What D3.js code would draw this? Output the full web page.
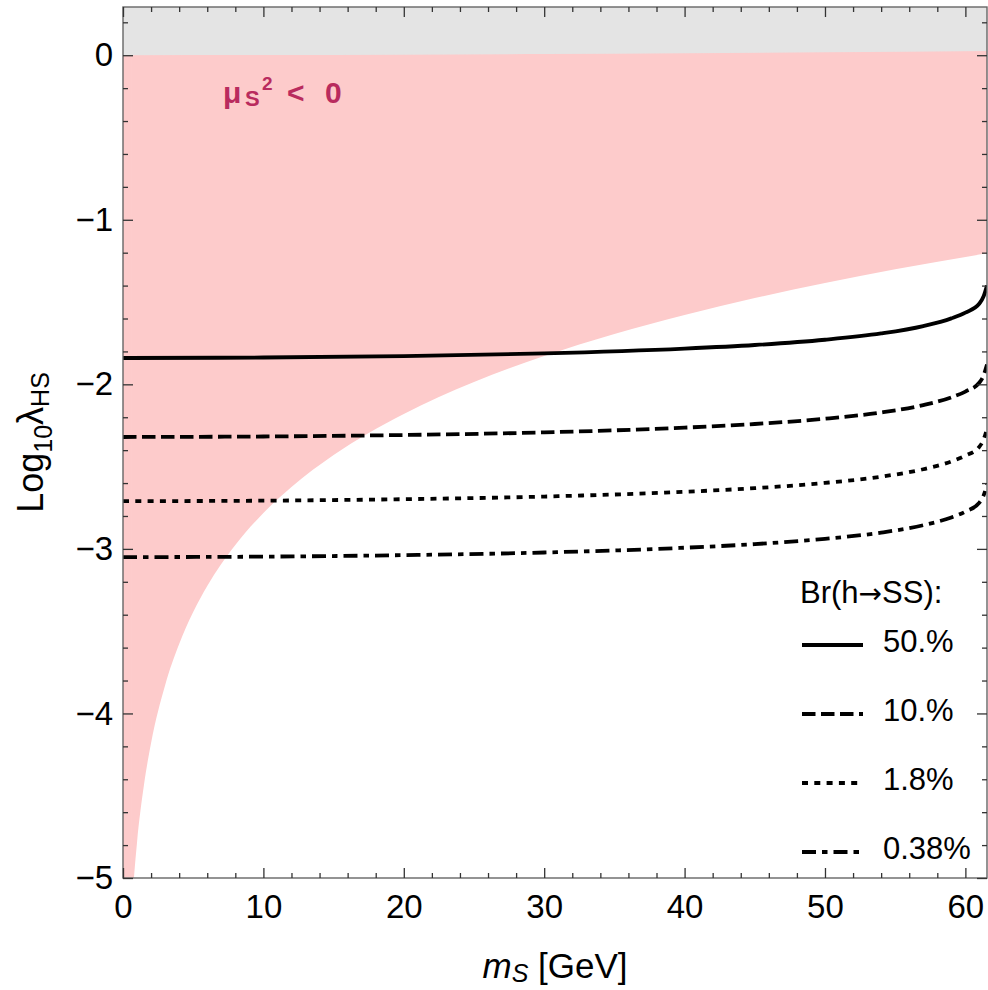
<!DOCTYPE html>
<html>
<head>
<meta charset="utf-8">
<script src="https://cdn.jsdelivr.net/npm/d3@7"></script>
<style>
  body { margin: 0; background: #fff; }
  svg { display: block; }
  text { font-family: "Liberation Sans", Arial, sans-serif; }
</style>
</head>
<body>
<svg id="chart" width="988" height="990"></svg>
<script>
// Singlet mass grid [GeV] shared by the branching-ratio contours
const massGrid = [0, 10, 20, 30, 40, 45, 50, 54, 57, 59, 60, 61, 61.3, 61.54];

// Log10 lambda_HS along each Br(h -> SS) contour
const br50  = [-1.840, -1.837, -1.828, -1.812, -1.783, -1.761, -1.729, -1.691, -1.646, -1.599, -1.564, -1.509, -1.465, -1.400];
const br10  = [-2.320, -2.317, -2.308, -2.292, -2.263, -2.241, -2.209, -2.171, -2.126, -2.079, -2.044, -1.989, -1.945, -1.880];
const br1p8 = [-2.710, -2.707, -2.698, -2.682, -2.653, -2.631, -2.599, -2.561, -2.516, -2.469, -2.434, -2.379, -2.335, -2.270];
const br038 = [-3.050, -3.047, -3.038, -3.022, -2.993, -2.971, -2.939, -2.901, -2.856, -2.809, -2.774, -2.719, -2.675, -2.610];
const brLabels = ["50.%", "10.%", "1.8%", "0.38%"];

// Lower edge of the mu_S^2 < 0 region
const muMass  = [0.6, 0.8, 1, 1.5, 2, 3, 4, 5, 6, 8, 10, 12, 15, 20, 25, 30, 35, 40, 45, 50, 55, 61.54];
const muEdge  = [-5.226, -4.976, -4.782, -4.430, -4.180, -3.828, -3.578, -3.384, -3.226, -2.976, -2.782, -2.624, -2.430, -2.180, -1.986, -1.828, -1.694, -1.578, -1.476, -1.384, -1.301, -1.204];

// Lower edge of the grey excluded band at the top
const greyMass = [0, 10, 20, 30, 40, 50, 61.54];
const greyEdge = [0.000, 0.001, 0.003, 0.007, 0.012, 0.018, 0.026];

// Axis ticks
const xMajor = [0, 10, 20, 30, 40, 50, 60];
const yMajor = [-5, -4, -3, -2, -1, 0];

const svg = d3.select("#chart");
const L = 123, R = 987, T = 7, B = 878;
const xMax = 61.54, yMin = -5, yMax = 0.293;

const x = d3.scaleLinear().domain([0, xMax]).range([L, R]);
const y = d3.scaleLinear().domain([yMin, yMax]).range([B, T]);

svg.append("defs").append("clipPath").attr("id", "plotClip")
  .append("rect").attr("x", L).attr("y", T).attr("width", R - L).attr("height", B - T);

const plot = svg.append("g").attr("clip-path", "url(#plotClip)");

// pink: mu_S^2 < 0
const muPts = muMass.map((m, i) => [m, muEdge[i]]);
plot.append("path")
  .datum(muPts)
  .attr("fill", "#fdcbcb")
  .attr("d", d3.area().x(d => x(d[0])).y0(d => y(d[1])).y1(y(yMax)).curve(d3.curveMonotoneX));
// fill the sliver left of the first grid point
plot.append("rect")
  .attr("x", x(0)).attr("y", y(yMax))
  .attr("width", x(muMass[0]) - x(0) + 0.5).attr("height", y(yMin) - y(yMax))
  .attr("fill", "#fdcbcb");

// grey band on top
const greyPts = greyMass.map((m, i) => [m, greyEdge[i]]);
plot.append("path")
  .datum(greyPts)
  .attr("fill", "#e4e4e4")
  .attr("d", d3.area().x(d => x(d[0])).y0(d => y(d[1])).y1(y(yMax)).curve(d3.curveMonotoneX));

// contour styles
const styles = [
  { vals: br50,  dash: null },
  { vals: br10,  dash: "13.5,5.5" },
  { vals: br1p8, dash: "6,6.3" },
  { vals: br038, dash: "14,6,5.5,6" }
];

const line = d3.line().x(d => x(d[0])).y(d => y(d[1])).curve(d3.curveMonotoneX);
styles.forEach(s => {
  plot.append("path")
    .datum(massGrid.map((m, i) => [m, s.vals[i]]))
    .attr("fill", "none")
    .attr("stroke", "#000")
    .attr("stroke-width", 3.8)
    .attr("stroke-dasharray", s.dash)
    .attr("d", line);
});

// label inside the pink region
const muLabel = svg.append("g")
  .attr("fill", "#b92b5e")
  .style("font-family", "'DejaVu Sans', sans-serif")
  .style("font-weight", "bold");
muLabel.append("text").attr("x", 223).attr("y", 103).style("font-size", "30px").text("μ");
muLabel.append("text").attr("x", 245).attr("y", 106).style("font-size", "22px").text("S");
muLabel.append("text").attr("x", 262).attr("y", 90).style("font-size", "19px").text("2");
muLabel.append("text").attr("x", 287).attr("y", 103).style("font-size", "30px").text("<");
muLabel.append("text").attr("x", 325).attr("y", 103).style("font-size", "30px").text("0");

// frame
svg.append("rect")
  .attr("x", L).attr("y", T).attr("width", R - L).attr("height", B - T)
  .attr("fill", "none").attr("stroke", "#666").attr("stroke-width", 1.4);

// ticks (inward on all four sides)
const xMinor = d3.range(0, xMax, 2).filter(v => v % 10 !== 0);
const yMinor = d3.range(-5, yMax, 0.2).map(v => +v.toFixed(1)).filter(v => Math.abs(v - Math.round(v)) > 1e-6);

function styleAxis(g) {
  g.select(".domain").remove();
  g.selectAll(".tick line").attr("stroke", "#333").attr("stroke-width", 1.3);
  g.selectAll("text").attr("fill", "#000").style("font-size", "33px")
    .style("font-family", "'Liberation Sans', Arial, sans-serif");
}

svg.append("g").attr("transform", `translate(0,${B})`)
  .call(d3.axisBottom(x).tickValues(xMajor).tickSize(-10).tickPadding(17).tickFormat(d3.format("d")))
  .call(styleAxis);
svg.append("g").attr("transform", `translate(0,${B})`)
  .call(d3.axisBottom(x).tickValues(xMinor).tickSize(-5).tickFormat(""))
  .call(styleAxis);
svg.append("g").attr("transform", `translate(0,${T})`)
  .call(d3.axisTop(x).tickValues(xMajor).tickSize(-10).tickFormat(""))
  .call(styleAxis);
svg.append("g").attr("transform", `translate(0,${T})`)
  .call(d3.axisTop(x).tickValues(xMinor).tickSize(-5).tickFormat(""))
  .call(styleAxis);

svg.append("g").attr("transform", `translate(${L},0)`)
  .call(d3.axisLeft(y).tickValues(yMajor).tickSize(-10).tickPadding(10).tickFormat(d3.format("d")))
  .call(styleAxis);
svg.append("g").attr("transform", `translate(${L},0)`)
  .call(d3.axisLeft(y).tickValues(yMinor).tickSize(-5).tickFormat(""))
  .call(styleAxis);
svg.append("g").attr("transform", `translate(${R},0)`)
  .call(d3.axisRight(y).tickValues(yMajor).tickSize(-10).tickFormat(""))
  .call(styleAxis);
svg.append("g").attr("transform", `translate(${R},0)`)
  .call(d3.axisRight(y).tickValues(yMinor).tickSize(-5).tickFormat(""))
  .call(styleAxis);

// axis titles
const xTitle = svg.append("text")
  .attr("x", (L + R) / 2).attr("y", 978)
  .attr("text-anchor", "middle")
  .style("font-size", "35px");
xTitle.append("tspan").style("font-style", "italic").text("m");
xTitle.append("tspan").attr("dy", 4).style("font-style", "italic").style("font-size", "25px").text("S");
xTitle.append("tspan").attr("dy", -4).text(" [GeV]");

const yTitle = svg.append("text")
  .attr("transform", `translate(43,${(T + B) / 2}) rotate(-90)`)
  .attr("text-anchor", "middle")
  .style("font-size", "36px");
yTitle.append("tspan").text("Log");
yTitle.append("tspan").attr("dy", 9).style("font-size", "25px").text("10");
yTitle.append("tspan").attr("dy", -9).text("λ");
yTitle.append("tspan").attr("dy", 6).style("font-size", "25px").text("HS");

// legend
const legend = svg.append("g");
const legTitle = legend.append("text").attr("x", 800).attr("y", 603).style("font-size", "31px");
legTitle.append("tspan").text("Br(h");
legTitle.append("tspan").style("font-family", "'DejaVu Sans', sans-serif").style("font-size", "28px").text("→");
legTitle.append("tspan").text("SS):");
styles.forEach((s, i) => {
  const ly = 645 + i * 69;
  legend.append("line")
    .attr("x1", 802).attr("x2", 863).attr("y1", ly).attr("y2", ly)
    .attr("stroke", "#000").attr("stroke-width", 3.8)
    .attr("stroke-dasharray", s.dash);
  legend.append("text").attr("x", 883).attr("y", ly + 7)
    .style("font-size", "31px").text(brLabels[i]);
});
</script>
</body>
</html>
